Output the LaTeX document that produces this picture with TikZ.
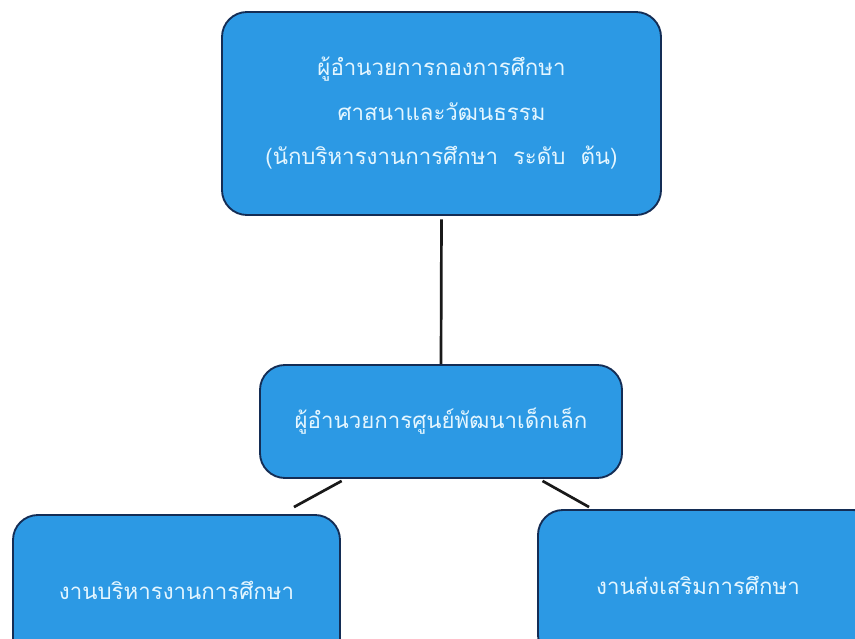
\documentclass[tikz,border=0pt]{standalone}
\usepackage{fontspec}
\newfontfamily\thaifont[Script=Thai]{Loma}
\usepackage{xcolor}
\usetikzlibrary{positioning,calc}
\definecolor{boxblue}{RGB}{44,153,228}
\definecolor{boxline}{RGB}{20,45,85}
\definecolor{textwhite}{RGB}{228,246,255}

\begin{document}
\begin{tikzpicture}[x=0.03cm,y=-0.03cm,
    box/.style={draw=boxline,line width=1.6pt,fill=boxblue,rounded corners=0.75cm,
        text=textwhite,font=\thaifont\fontsize{19}{38}\selectfont,align=center,inner sep=0pt},
    link/.style={line width=2.3pt,black!90}]
        % Frame
        \useasboundingbox (0,0) rectangle (855,639);
        \clip (0,0) rectangle (855,639);

        % Boxes
        \node[box,minimum width=13.17cm,minimum height=6.09cm] (head) at (441.5,113.5)
            {ผู้อำนวยการกองการศึกษา\\ศาสนาและวัฒนธรรม\\(นักบริหารงานการศึกษา~~ระดับ~~ต้น)};
        \node[box,minimum width=10.86cm,minimum height=3.39cm] (center) at (441,421.5)
            {ผู้อำนวยการศูนย์พัฒนาเด็กเล็ก};
        \node[box,minimum width=9.81cm,minimum height=4.5cm] (admin) at (176.5,590)
            {งานบริหารงานการศึกษา};
        \node[box,minimum width=10.2cm,minimum height=4.5cm] (promo) at (708,585)
            {งานส่งเสริมการศึกษา\hspace*{0.6cm}};

        % Lines
        \draw[link,shorten <=3pt] (head.south) -- (center.north);
        \draw[link] ($(center.south west)!0.227!(center.south east)+(0,2)$) -- ($(admin.north east)+(-47,-7)$);
        \draw[link] ($(center.south west)!0.779!(center.south east)+(0,2)$) -- ($(promo.north west)+(52,-2)$);
\end{tikzpicture}
\end{document}
